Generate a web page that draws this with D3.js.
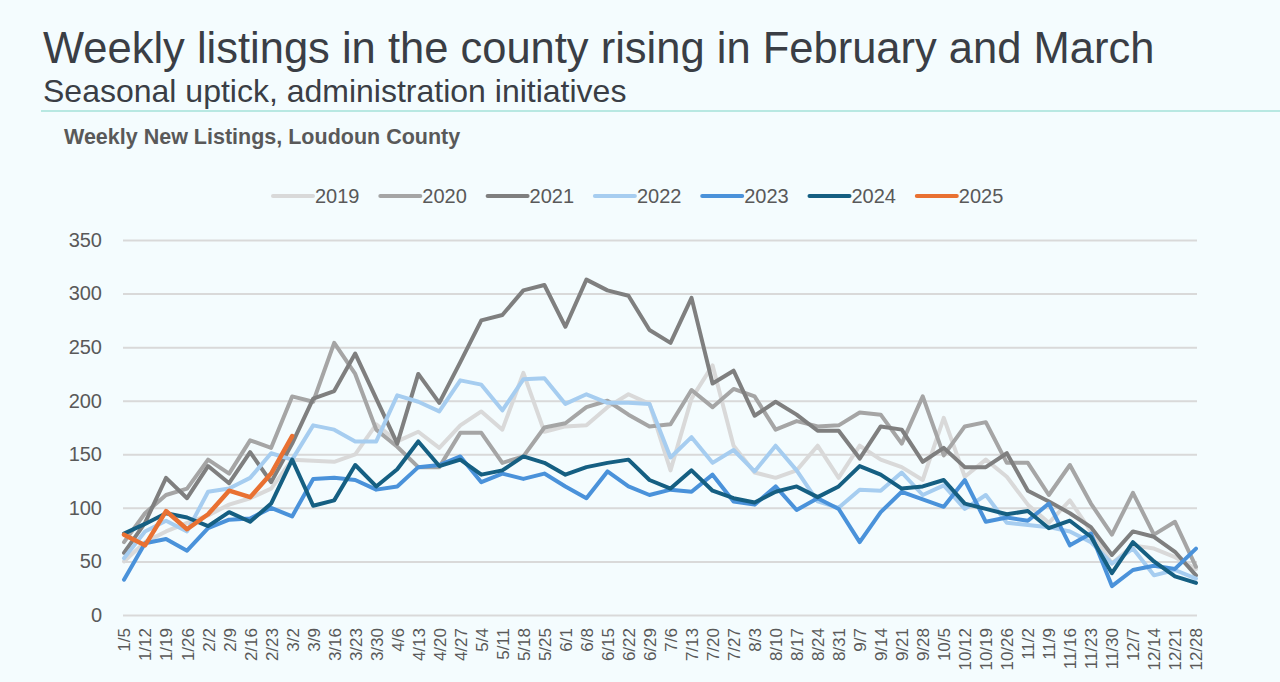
<!DOCTYPE html>
<html>
<head>
<meta charset="utf-8">
<script src="https://cdn.jsdelivr.net/npm/d3@7"></script>
<style>
  body { margin: 0; background: #f4fcfe; }
  text { font-family: "Liberation Sans", Arial, sans-serif; }
</style>
</head>
<body>
<svg id="chart" width="1280" height="682"></svg>
<script>
// weeks on the x axis
const weeks = ["1/5","1/12","1/19","1/26","2/2","2/9","2/16","2/23","3/2","3/9",
  "3/16","3/23","3/30","4/6","4/13","4/20","4/27","5/4","5/11","5/18",
  "5/25","6/1","6/8","6/15","6/22","6/29","7/6","7/13","7/20","7/27",
  "8/3","8/10","8/17","8/24","8/31","9/7","9/14","9/21","9/28","10/5",
  "10/12","10/19","10/26","11/2","11/9","11/16","11/23","11/30","12/7","12/14",
  "12/21","12/28"];

const yTicks = [0, 50, 100, 150, 200, 250, 300, 350];

// weekly new listings per year
const s2019 = [50,68,78,86,93,103,109,118,145,144, 143,150,178,162,171,156,177,190,173,226,
  171,176,177,194,206,197,135,202,233,158, 133,128,135,158,128,158,145,138,126,184,
  129,145,129,103,86,107,78,48,65,62, 54,43];
const s2020 = [68,95,112,118,145,132,163,156,204,199, 254,225,173,157,138,138,170,170,142,148,
  175,179,194,200,187,176,178,210,194,211, 204,173,181,176,177,189,187,160,204,149,
  176,180,142,142,112,140,104,75,114,75, 87,45];
const s2021 = [58,86,128,109,139,123,152,124,160,202, 209,244,202,160,225,198,236,275,280,303,
  308,269,313,303,298,266,254,296,216,228, 186,199,187,172,172,146,176,173,143,156,
  138,138,151,116,106,95,82,56,78,73, 59,37];
const s2022 = [53,78,88,78,115,118,128,151,145,177, 173,162,162,205,199,190,219,215,191,220,
  221,197,206,198,198,197,147,166,142,154, 134,158,135,106,100,117,116,133,112,121,
  99,112,86,84,82,78,68,48,62,37, 42,34];
const s2023 = [33,67,71,60,81,89,90,100,92,127, 128,126,117,120,138,140,148,124,132,127,
  132,120,109,134,120,112,117,115,131,106, 103,120,98,109,99,68,96,115,108,101,
  126,87,91,88,104,65,76,27,42,46, 43,62];
const s2024 = [76,85,95,91,83,96,87,104,145,102, 107,140,120,136,162,139,145,131,135,148,
  142,131,138,142,145,126,118,135,116,109, 105,115,120,110,120,139,131,118,120,126,
  104,99,94,97,81,88,73,39,68,50, 36,30];
const s2025 = [75,65,97,80,94,116,110,132,167];

const years = ["2019","2020","2021","2022","2023","2024","2025"];
const series = [s2019, s2020, s2021, s2022, s2023, s2024, s2025];
const colors = ["#d9d9d9","#a5a5a5","#7f7f7f","#a6cdf0","#4a92da","#155f82","#e97132"];

const svg = d3.select("#chart");

svg.append("rect").attr("width", 1280).attr("height", 682).attr("fill", "#f4fcfe");

// headings
svg.append("text")
  .attr("x", 43).attr("y", 63)
  .attr("font-size", 43.5)
  .attr("fill", "#3a3e45")
  .text("Weekly listings in the county rising in February and March");

svg.append("text")
  .attr("x", 43).attr("y", 102)
  .attr("font-size", 32)
  .attr("fill", "#3a3e45")
  .text("Seasonal uptick, administration initiatives");

svg.append("line")
  .attr("x1", 41).attr("x2", 1280)
  .attr("y1", 111).attr("y2", 111)
  .attr("stroke", "#a4e2d8").attr("stroke-width", 1.5);

svg.append("text")
  .attr("x", 64).attr("y", 144)
  .attr("font-size", 21.5)
  .attr("font-weight", "bold")
  .attr("fill", "#595959")
  .text("Weekly New Listings, Loudoun County");

// scales
const x = d3.scalePoint().domain(weeks).range([124, 1196]);
const y = d3.scaleLinear().domain([0, 350]).range([615, 240]);

// y grid + labels
const yAxis = svg.append("g")
  .attr("transform", "translate(123,0)")
  .call(d3.axisLeft(y).tickValues(yTicks).tickSize(-1074).tickPadding(21));
yAxis.select(".domain").remove();
yAxis.selectAll("line").attr("stroke", "#d9d9d9").attr("stroke-width", 2);
yAxis.selectAll("text")
  .attr("font-size", 20)
  .attr("fill", "#595959")
  .style("font-family", "Liberation Sans, Arial, sans-serif");

// x labels
const xAxis = svg.append("g")
  .attr("transform", "translate(0,615)")
  .call(d3.axisBottom(x).tickSize(0));
xAxis.select(".domain").remove();
xAxis.selectAll("text")
  .attr("transform", "rotate(-90)")
  .attr("text-anchor", "end")
  .attr("x", -13).attr("y", 0).attr("dy", "0.35em")
  .attr("font-size", 17)
  .attr("fill", "#595959")
  .style("font-family", "Liberation Sans, Arial, sans-serif");

// lines
const line = d3.line()
  .x((d, i) => x(weeks[i]))
  .y(d => y(d));

svg.append("g")
  .selectAll("path")
  .data(series)
  .join("path")
  .attr("d", line)
  .attr("fill", "none")
  .attr("stroke", (d, i) => colors[i])
  .attr("stroke-width", (d, i) => i === 6 ? 4.5 : 4)
  .attr("stroke-linejoin", "round")
  .attr("stroke-linecap", "round");

// legend
const legend = svg.append("g")
  .selectAll("g")
  .data(years)
  .join("g")
  .attr("transform", (d, i) => `translate(${273 + i * 107.3},196)`);

legend.append("line")
  .attr("x1", 0).attr("x2", 40)
  .attr("stroke", (d, i) => colors[i])
  .attr("stroke-width", 4)
  .attr("stroke-linecap", "round");

legend.append("text")
  .attr("x", 42).attr("dy", "0.35em")
  .attr("font-size", 20)
  .attr("fill", "#595959")
  .text(d => d);
</script>
</body>
</html>
